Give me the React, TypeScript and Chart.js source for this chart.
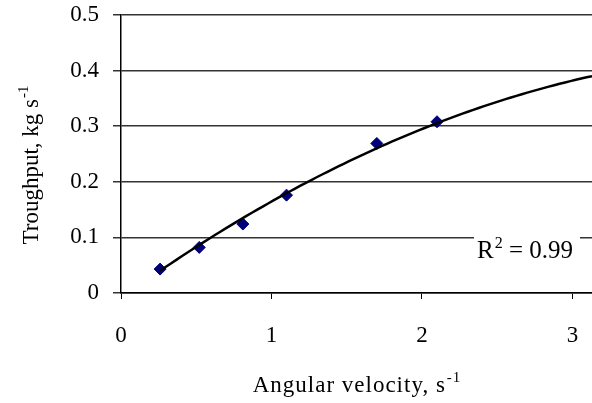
import React, { useEffect, useRef } from "react";
import { Chart, registerables } from "chart.js";

Chart.register(...registerables);

const angularVelocity = [0.26, 0.52, 0.81, 1.1, 1.7, 2.1];
const throughput = [0.043, 0.082, 0.124, 0.176, 0.269, 0.308];
// quadratic trend line y = a + b x + c x^2
const trendCoef = [-0.0093, 0.1954, -0.02166];
const xTicks = [0, 1, 2, 3];
const yTicks = [0, 0.1, 0.2, 0.3, 0.4, 0.5];
const xMax = 3.13;
const rSquaredText = "0.99";

const FONT = '"Liberation Serif", "Times New Roman", serif';

function makeSup(ctx: CanvasRenderingContext2D, y: number, main: string, sup: string, tail: string, size = 23, spacing = 0) {
  const supSize = Math.round(size * 0.65);
  (ctx as any).letterSpacing = `${spacing}px`;
  ctx.font = `${size}px ${FONT}`;
  const w1 = ctx.measureText(main).width;
  ctx.font = `${supSize}px ${FONT}`;
  const w2 = ctx.measureText(sup).width;
  ctx.font = `${size}px ${FONT}`;
  const w3 = ctx.measureText(tail).width;
  return {
    w: w1 + w2 + w3 + 1,
    draw: (sx: number) => {
      (ctx as any).letterSpacing = `${spacing}px`;
      ctx.font = `${size}px ${FONT}`;
      ctx.fillText(main, sx, y);
      ctx.font = `${supSize}px ${FONT}`;
      ctx.fillText(sup, sx + w1 + 1, y - size * 0.42);
      ctx.font = `${size}px ${FONT}`;
      ctx.fillText(tail, sx + w1 + 1 + w2, y);
      (ctx as any).letterSpacing = "0px";
    },
  };
}

const titlesPlugin = {
  id: "customTitles",
  afterDraw(chart: any) {
    const ctx: CanvasRenderingContext2D = chart.ctx;
    ctx.save();
    ctx.fillStyle = "#000";
    ctx.textAlign = "left";
    ctx.textBaseline = "alphabetic";
    const xt = makeSup(ctx, 392, "Angular velocity, s", "-1", "", 23, 1);
    xt.draw(357 - xt.w / 2);
    ctx.translate(38, 165);
    ctx.rotate(-Math.PI / 2);
    const yt = makeSup(ctx, 0, "Troughput, kg s", "-1", "");
    yt.draw(-yt.w / 2);
    ctx.restore();

    ctx.save();
    ctx.fillStyle = "#fff";
    ctx.fillRect(474, 227, 106, 36);
    ctx.fillStyle = "#000";
    ctx.textBaseline = "alphabetic";
    ctx.textAlign = "left";
    const rt = makeSup(ctx, 258, "R", "2", " = " + rSquaredText, 25);
    rt.draw(477);
    ctx.restore();
  },
};

export default function App() {
  const ref = useRef<HTMLCanvasElement | null>(null);
  useEffect(() => {
    document.body.style.margin = "0";
    document.body.style.overflow = "hidden";
    const x0 = angularVelocity[0];
    const trend: { x: number; y: number }[] = [];
    const n = 80;
    for (let i = 0; i <= n; i++) {
      const x = x0 + ((xMax - x0) * i) / n;
      trend.push({ x, y: trendCoef[0] + trendCoef[1] * x + trendCoef[2] * x * x });
    }
    const chart = new Chart(ref.current!, {
      type: "scatter",
      data: {
        datasets: [
          {
            label: "trend",
            data: trend,
            showLine: true,
            borderColor: "#000",
            borderWidth: 2.5,
            pointRadius: 0,
            order: 0,
          },
          {
            label: "data",
            data: angularVelocity.map((x, i) => ({ x, y: throughput[i] })),
            pointStyle: "rectRot",
            pointRadius: 6,
            backgroundColor: "#00007a",
            borderColor: "#00007a",
            order: 1,
          },
        ],
      },
      options: {
        animation: false,
        responsive: false,
        layout: { padding: { top: 15, right: 0, left: 0, bottom: 0 } },
        plugins: { legend: { display: false }, tooltip: { enabled: false } },
        scales: {
          x: {
            type: "linear",
            min: 0,
            max: xMax,
            afterBuildTicks: (s: any) => { s.ticks = xTicks.map((v) => ({ value: v })); },
            afterFit: (s: any) => { s.height = 110; s.paddingLeft = 0; s.paddingRight = 0; },
            ticks: {
              color: "#000",
              font: { family: FONT, size: 23 },
              padding: 23,
              maxRotation: 0,
              callback: (v: any) => String(v),
            },
            grid: { drawOnChartArea: false, drawTicks: true, tickLength: 6, color: "#000" },
            border: { display: true, color: "#000", width: 1.5 },
          },
          y: {
            type: "linear",
            min: 0,
            max: 0.5,
            afterBuildTicks: (s: any) => { s.ticks = yTicks.map((v) => ({ value: v })); },
            afterFit: (s: any) => { s.width = 121; s.paddingTop = 0; s.paddingBottom = 0; },
            ticks: {
              color: "#000",
              font: { family: FONT, size: 23 },
              padding: 14,
              callback: (v: any) => String(Math.round(v * 10) / 10),
            },
            grid: { drawOnChartArea: true, drawTicks: true, tickLength: 8, color: "#333", lineWidth: 1.5 },
            border: { display: true, color: "#000", width: 1.5 },
          },
        },
      },
      plugins: [titlesPlugin],
    } as any);
    return () => chart.destroy();
  }, []);
  return (
    <div style={{ position: "absolute", left: 0, top: 0, width: 592, height: 403, overflow: "hidden" }}>
      <canvas ref={ref} width={599} height={403} style={{ display: "block", width: 599, height: 403 }} />
    </div>
  );
}
